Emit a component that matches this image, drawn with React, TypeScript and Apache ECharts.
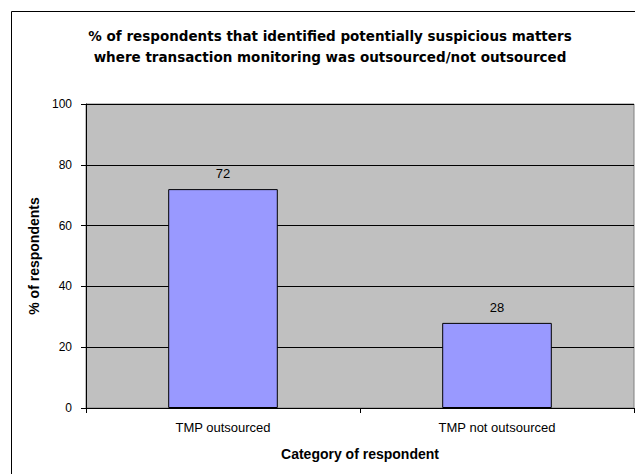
import React, { useEffect, useRef } from "react";
import * as echarts from "echarts";

const categories = ["TMP outsourced", "TMP not outsourced"];
const percentValues = [72, 28];
const yTicks = { min: 0, max: 100, interval: 20 };

const titleLines = [
  "% of respondents that identified potentially suspicious matters",
  "where transaction monitoring was outsourced/not outsourced",
];
const xAxisTitle = "Category of respondent";
const yAxisTitle = "% of respondents";

const FONT = "'Liberation Sans', Arial, Helvetica, sans-serif";
const TITLE_FONT = "'DejaVu Sans', 'Liberation Sans', Arial, sans-serif";

export default function App() {
  const ref = useRef<HTMLDivElement>(null);

  useEffect(() => {
    if (!ref.current) return;
    const chart = echarts.init(ref.current, undefined, { renderer: "svg" });
    chart.setOption({
      animation: false,
      backgroundColor: "#ffffff",
      textStyle: { fontFamily: FONT },
      graphic: [
        {
          type: "rect",
          shape: { x: 11.5, y: 11.5, width: 700, height: 600 },
          style: { fill: "none", stroke: "#000000", lineWidth: 1 },
          z: 0,
        },
        {
          type: "text",
          x: 330,
          y: 46,
          style: {
            text: titleLines.join("\n"),
            fontFamily: TITLE_FONT,
            fontSize: 13.5,
            fontWeight: "bold",
            lineHeight: 21,
            fill: "#000000",
            align: "center",
            verticalAlign: "middle",
          },
        },
      ],
      grid: {
        left: 86,
        top: 104,
        right: 1,
        bottom: 66,
        show: true,
        backgroundColor: "#C0C0C0",
        borderColor: "#808080",
        borderWidth: 1,
        containLabel: false,
      },
      xAxis: {
        type: "category",
        data: categories,
        boundaryGap: true,
        name: xAxisTitle,
        nameLocation: "middle",
        nameGap: 39,
        nameTextStyle: { fontFamily: FONT, fontSize: 14, fontWeight: "bold", color: "#000000" },
        axisLine: { show: true, lineStyle: { color: "#000000", width: 1 } },
        axisTick: { show: true, alignWithLabel: false, length: 5, inside: false, lineStyle: { color: "#000000" } },
        axisLabel: { fontFamily: FONT, fontSize: 13, color: "#000000", margin: 13 },
        splitLine: { show: false },
      },
      yAxis: {
        type: "value",
        min: yTicks.min,
        max: yTicks.max,
        interval: yTicks.interval,
        name: yAxisTitle,
        nameLocation: "middle",
        nameRotate: 90,
        nameGap: 41,
        nameTextStyle: { fontFamily: FONT, fontSize: 14, fontWeight: "bold", color: "#000000" },
        axisLine: { show: true, lineStyle: { color: "#000000", width: 1 } },
        axisTick: { show: true, length: 5, inside: false, lineStyle: { color: "#000000" } },
        axisLabel: { fontFamily: FONT, fontSize: 12, color: "#000000", margin: 14 },
        splitLine: { show: true, lineStyle: { color: "#000000", width: 1 } },
      },
      series: [
        {
          type: "bar",
          data: percentValues,
          barWidth: "40%",
          itemStyle: { color: "#9999FF", borderColor: "#000000", borderWidth: 1 },
          label: {
            show: true,
            position: "top",
            distance: 9,
            fontFamily: FONT,
            fontSize: 13,
            color: "#000000",
          },
        },
      ],
    });
    return () => chart.dispose();
  }, []);

  return (
    <div
      ref={ref}
      style={{ position: "fixed", left: 0, top: 0, width: 635, height: 474 }}
    />
  );
}
